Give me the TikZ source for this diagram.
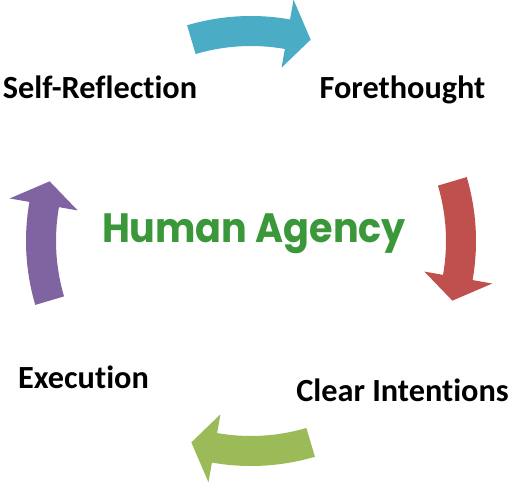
\documentclass[tikz,border=0pt]{standalone}
\usepackage{fontspec}
\setmainfont{Carlito}[Ligatures=NoCommon]
\newfontfamily\agencyfont{Poppins}
\definecolor{cblue}{RGB}{75,172,198}
\definecolor{cred}{RGB}{192,80,77}
\definecolor{cgreen}{RGB}{155,187,89}
\definecolor{cpurple}{RGB}{128,100,162}
\definecolor{ctext}{RGB}{58,152,58}
\tikzset{
  lbl/.style={anchor=base, font=\fontsize{32.3}{38}\selectfont\bfseries, text=black, inner sep=0pt},
  title/.style={anchor=base, font=\fontsize{41}{46}\selectfont\agencyfont\bfseries, text=ctext, inner sep=0pt}
}
\newcommand{\cyclearrowpath}[2]{%
  \fill[#2] (#1+16.5:195) arc[start angle=#1+16.5, end angle=#1-10, radius=195]
    -- (#1-10:176) -- (#1-16.5:210) -- (#1-10:245) -- (#1-10:225)
    arc[start angle=#1-10, end angle=#1+16.5, radius=225] -- cycle;}
\begin{document}
\begin{tikzpicture}[x=1pt,y=1pt]
\useasboundingbox (0,0) rectangle (514,488);
\begin{scope}[shift={(251,247)}]
  \cyclearrowpath{90}{cblue}
  \cyclearrowpath{0}{cred}
  \cyclearrowpath{-90}{cgreen}
  \cyclearrowpath{180}{cpurple}
\end{scope}
\node[lbl] (selfref) at (100,389) {Self-Reflection};
\node[lbl] (fore) at (402.5,389) {Forethought};
\node[lbl] (exec) at (83.5,100) {Execution};
\node[lbl] (clear) at (402.5,87) {Clear Intentions};
\node[title] (agency) at (254,245) {\scalebox{0.93}[1]{Human Agency}};
\end{tikzpicture}
\end{document}
